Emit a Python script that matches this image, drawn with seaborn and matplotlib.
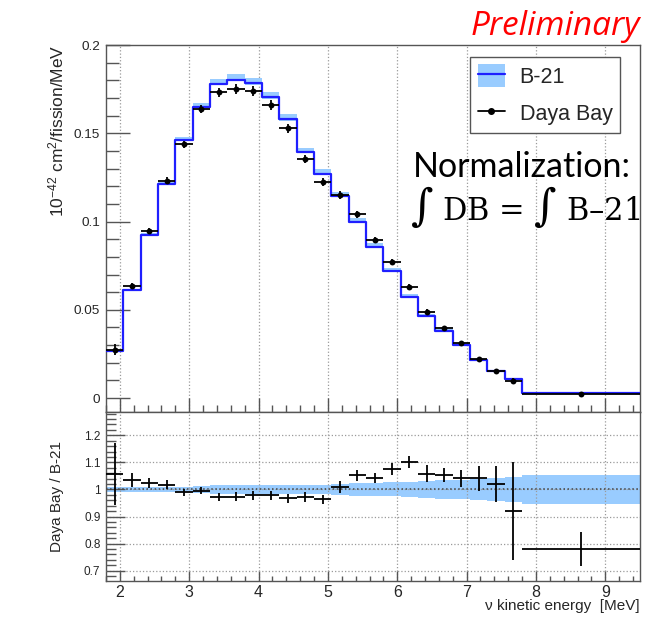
import numpy as np
import matplotlib
matplotlib.use("Agg")
import matplotlib.pyplot as plt
import seaborn as sns
from matplotlib.patches import Patch
from matplotlib.lines import Line2D
from matplotlib.legend_handler import HandlerTuple
from matplotlib.ticker import MultipleLocator, FixedLocator

# ---------------- data ----------------
bin_edges = [1.8, 2.05, 2.3, 2.55, 2.8, 3.05, 3.3, 3.55, 3.8, 4.05, 4.3, 4.55, 4.8,
             5.05, 5.3, 5.55, 5.8, 6.05, 6.3, 6.55, 6.8, 7.05, 7.3, 7.55, 7.8, 9.5]

b21_values = [0.0265, 0.0615, 0.0924, 0.1212, 0.1462, 0.1651, 0.1780, 0.1804, 0.1785,
              0.1704, 0.1579, 0.1393, 0.1272, 0.1145, 0.0996, 0.0856, 0.0719, 0.0574,
              0.0464, 0.0378, 0.0303, 0.0214, 0.0151, 0.0108, 0.0026]

b21_rel_unc = [0.009, 0.009, 0.009, 0.009, 0.010, 0.012, 0.015, 0.017, 0.017, 0.018,
               0.018, 0.018, 0.018, 0.020, 0.023, 0.025, 0.026, 0.028, 0.031, 0.034,
               0.036, 0.040, 0.043, 0.046, 0.053]

db_values = [0.0274, 0.0634, 0.0945, 0.1230, 0.1439, 0.1638, 0.1733, 0.1750, 0.1740,
             0.1660, 0.1528, 0.1354, 0.1225, 0.1151, 0.1041, 0.0894, 0.0770, 0.0632,
             0.0490, 0.0399, 0.0310, 0.0223, 0.0151, 0.0098, 0.0023]

db_errors = [0.0030, 0.0016, 0.0017, 0.0020, 0.0020, 0.0021, 0.0025, 0.0027, 0.0028,
             0.0027, 0.0024, 0.0022, 0.0021, 0.0024, 0.0020, 0.0017, 0.0016, 0.0014,
             0.0015, 0.0010, 0.0009, 0.0009, 0.0009, 0.0016, 0.0002]

ratio_values = [1.057, 1.034, 1.025, 1.018, 0.989, 0.996, 0.973, 0.973, 0.978, 0.978,
                0.967, 0.972, 0.963, 1.010, 1.052, 1.042, 1.076, 1.102, 1.058, 1.052,
                1.041, 1.042, 1.020, 0.921, 0.781]

ratio_errors = [0.114, 0.025, 0.018, 0.017, 0.014, 0.013, 0.015, 0.016, 0.017, 0.017,
                0.016, 0.017, 0.018, 0.022, 0.020, 0.020, 0.022, 0.023, 0.032, 0.026,
                0.032, 0.046, 0.065, 0.180, 0.062]

x_ticks = [2, 3, 4, 5, 6, 7, 8, 9]
top_y_ticks = [0, 0.05, 0.1, 0.15, 0.2]
top_y_labels = ["0", "0.05", "0.1", "0.15", "0.2"]
ratio_y_ticks = [0.7, 0.8, 0.9, 1.0, 1.1, 1.2]
ratio_y_labels = ["0.7", "0.8", "0.9", "1", "1.1", "1.2"]

# ---------------- derived ----------------
edges = np.array(bin_edges)
centers = 0.5 * (edges[:-1] + edges[1:])
halfw = 0.5 * np.diff(edges)
b21 = np.array(b21_values)
rel = np.array(b21_rel_unc)
b21_ext = np.append(b21, b21[-1])
rel_ext = np.append(rel, rel[-1])

# ---------------- style ----------------
sns.set_theme(style="white")
plt.rcParams['font.family'] = ['Liberation Sans', 'DejaVu Sans']
plt.rcParams['mathtext.fontset'] = 'custom'
plt.rcParams['mathtext.rm'] = 'Liberation Sans'
plt.rcParams['mathtext.it'] = 'Liberation Sans:italic'

BAND = '#99ccff'
LINE = '#1f1fff'
SPINE = '#555555'
GRID = '#9a9a9a'

fig = plt.figure(figsize=(6.57, 6.2), dpi=100)
ax1 = fig.add_axes([0.1613, 0.3360, 0.8128, 0.5914])
ax2 = fig.add_axes([0.1613, 0.0629, 0.8128, 0.2726])

# ---------------- top panel ----------------
ax1.fill_between(edges, b21_ext * (1 - 0.3 * rel_ext), b21_ext * (1 + 1.0 * rel_ext),
                 step='post', color=BAND, lw=0, zorder=2)
sns.lineplot(x=edges, y=b21_ext, drawstyle='steps-post', color=LINE, lw=1.6,
             estimator=None, sort=False, ax=ax1, zorder=3)
ax1.errorbar(centers, db_values, xerr=halfw, yerr=db_errors, fmt='none',
             ecolor='black', elinewidth=1.3, capsize=0, zorder=4)
sns.scatterplot(x=centers, y=db_values, color='black', s=18, edgecolor='black',
                linewidth=0, ax=ax1, zorder=5)

ax1.set_xlim(1.8, 9.5)
ax1.set_ylim(-0.0077, 0.2)
ax1.xaxis.set_major_locator(FixedLocator(x_ticks))
ax1.xaxis.set_minor_locator(MultipleLocator(0.2))
ax1.set_yticks(top_y_ticks)
ax1.set_yticklabels(top_y_labels)
ax1.yaxis.set_minor_locator(MultipleLocator(0.01))
ax1.tick_params(axis='x', which='both', direction='in', labelbottom=False,
                bottom=True, top=False, color=SPINE)
ax1.tick_params(axis='x', which='major', length=10, width=1)
ax1.tick_params(axis='x', which='minor', length=5, width=1)
ax1.tick_params(axis='y', which='both', direction='in', left=True, right=False,
                color=SPINE, labelsize=9.7, pad=4.3)
ax1.tick_params(axis='y', which='major', length=17, width=1)
ax1.tick_params(axis='y', which='minor', length=9, width=1)
ax1.grid(axis='x', which='major', ls=':', color=GRID, lw=0.9)
ax1.grid(axis='y', visible=False)
ax1.set_xlabel('')
ax1.set_ylabel(r'10$^{-42}$ cm$^{2}$/fission/MeV', fontsize=12.5, loc='top')
ax1.yaxis.set_label_coords(-0.075, 1.0)
for s in ax1.spines.values():
    s.set_color(SPINE)
    s.set_linewidth(1)

legend_handles = [(Patch(facecolor=BAND, edgecolor='none'), Line2D([], [], color=LINE, lw=1.6)),
                  Line2D([], [], color='black', lw=1.3, marker='o', ms=4)]
leg = ax1.legend(legend_handles, ['B-21', 'Daya Bay'],
                 handler_map={tuple: HandlerTuple(ndivide=1)},
                 loc='upper left', bbox_to_anchor=(0.682, 0.968), fontsize=15.5,
                 frameon=True, fancybox=False, edgecolor=SPINE, framealpha=1,
                 handlelength=1.25, handleheight=1.25, handletextpad=0.7,
                 labelspacing=0.63, borderpad=0.35, borderaxespad=0)
leg.get_frame().set_linewidth(1)

# ---------------- ratio panel ----------------
ax2.fill_between(edges, 1 - rel_ext, 1 + rel_ext, step='post', color=BAND, lw=0, zorder=1)
ax2.axhline(1.0, ls=':', color='#444444', lw=1.1, zorder=3)
ax2.errorbar(centers, ratio_values, xerr=halfw, yerr=ratio_errors, fmt='none',
             ecolor='black', elinewidth=1.3, capsize=0, zorder=4)
ax2.set_xlim(1.8, 9.5)
ax2.set_ylim(0.662, 1.286)
ax2.xaxis.set_major_locator(FixedLocator(x_ticks))
ax2.xaxis.set_minor_locator(MultipleLocator(0.2))
ax2.set_yticks(ratio_y_ticks)
ax2.set_yticklabels(ratio_y_labels)
ax2.yaxis.set_minor_locator(MultipleLocator(0.02))
ax2.tick_params(axis='x', which='both', direction='in', bottom=True, top=False,
                color=SPINE, labelsize=11.5, pad=3)
ax2.tick_params(axis='x', which='major', length=7, width=1)
ax2.tick_params(axis='x', which='minor', length=3.5, width=1)
ax2.tick_params(axis='y', which='both', direction='in', left=True, right=False,
                color=SPINE, labelsize=8.5, pad=4)
ax2.tick_params(axis='y', which='major', length=14, width=1)
ax2.tick_params(axis='y', which='minor', length=7, width=1)
ax2.set_axisbelow(False)
ax2.grid(which='major', ls=':', color=GRID, lw=0.9, zorder=2)
ax2.set_ylabel('Daya Bay / B-21', fontsize=11)
ax2.yaxis.set_label_coords(-0.0787, 0.5)
ax2.set_xlabel('\u03bd kinetic energy  [MeV]', fontsize=11, loc='right')
ax2.xaxis.set_label_coords(1.0, -0.105)
for s in ax2.spines.values():
    s.set_color(SPINE)
    s.set_linewidth(1)

# ---------------- annotations ----------------
fig.text(640 / 657, 1 - 35 / 620, 'Preliminary', color='#ff0000', fontsize=24,
         family=['Open Sans', 'DejaVu Sans'], style='italic', ha='right', va='baseline')
fig.text(413 / 657, 1 - 176.7 / 620, 'Normalization:', color='black', fontsize=24.5,
         family=['Lato', 'DejaVu Sans'], ha='left', va='baseline')
fig.text(640 / 657, 1 - 220 / 620, r'$\int$ DB = $\int$ B' + '\u2013' + '21',
         color='black', fontsize=22, family=['DejaVu Serif'], math_fontfamily='dejavuserif',
         ha='right', va='baseline')

fig.savefig('out.png', dpi=100)
